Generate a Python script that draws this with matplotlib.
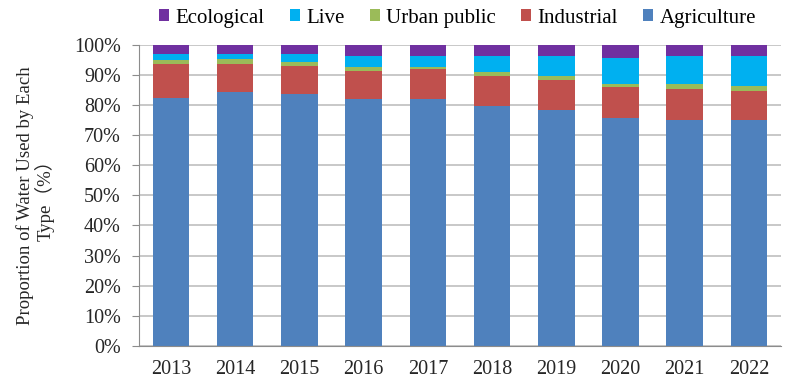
import matplotlib.pyplot as plt
import numpy as np
from matplotlib.ticker import FuncFormatter

years = ["2013", "2014", "2015", "2016", "2017", "2018", "2019", "2020", "2021", "2022"]
agriculture = [82.4, 84.1, 83.5, 81.8, 82.1, 79.7, 78.2, 75.7, 75.0, 75.0]
industrial = [11.1, 9.5, 9.5, 9.4, 9.7, 10.0, 9.9, 10.1, 10.1, 9.7]
urban_public = [1.4, 1.6, 1.1, 1.2, 0.8, 1.1, 1.6, 1.0, 1.9, 1.6]
live = [1.9, 1.6, 2.6, 3.9, 3.5, 5.3, 6.4, 8.6, 9.3, 10.0]
ecological = [3.2, 3.2, 3.3, 3.7, 3.9, 3.9, 3.9, 4.6, 3.7, 3.7]

series = [
    ("Agriculture", agriculture, "#4f81bd"),
    ("Industrial", industrial, "#c0504d"),
    ("Urban public", urban_public, "#9bbb59"),
    ("Live", live, "#00b0f0"),
    ("Ecological", ecological, "#7030a0"),
]

plt.rcParams["font.family"] = ["Liberation Serif", "Noto Sans CJK SC"]

fig = plt.figure(figsize=(7.93, 3.86), dpi=100)
ax = fig.add_axes([0.175, 0.1036, 0.81, 0.781])

x = np.arange(len(years))
bottom = np.zeros(len(years))
handles = []
for name, vals, color in series:
    vals = np.array(vals)
    h = ax.bar(x, vals, 0.57, bottom=bottom, color=color, label=name, zorder=2)
    handles.append(h)
    bottom += vals

ax.set_xlim(-0.5, len(years) - 0.5)
ax.set_ylim(0, 100)
ax.set_yticks(np.arange(0, 101, 10))
ax.yaxis.set_major_formatter(FuncFormatter(lambda v, p: f"{v:.0f}%"))
ax.set_xticks(x)
ax.set_xticklabels(years)
ax.grid(True, axis="y", color="#bfbfbf", linewidth=1.2, zorder=0)
ax.set_axisbelow(True)

for side in ["top", "right"]:
    ax.spines[side].set_visible(False)
for side in ["left", "bottom"]:
    ax.spines[side].set_color("#8c8c8c")
ax.tick_params(axis="x", length=0, labelsize=14.5, pad=10, colors="#262626")
ax.tick_params(axis="y", length=5, color="#8c8c8c", labelsize=14.5, pad=8,
               colors="#262626")

ax.set_ylabel("Proportion of Water Used by Each\nType（%）", fontsize=13.5,
              color="#262626", labelpad=14, linespacing=1.05)

fig.legend(handles[::-1], [s[0] for s in series][::-1], loc="center",
           bbox_to_anchor=(0.577, 0.953), ncol=5, frameon=False, fontsize=15,
           handlelength=0.5, handleheight=0.5, handletextpad=0.3,
           columnspacing=1.2)

fig.savefig("out.png", dpi=100)
